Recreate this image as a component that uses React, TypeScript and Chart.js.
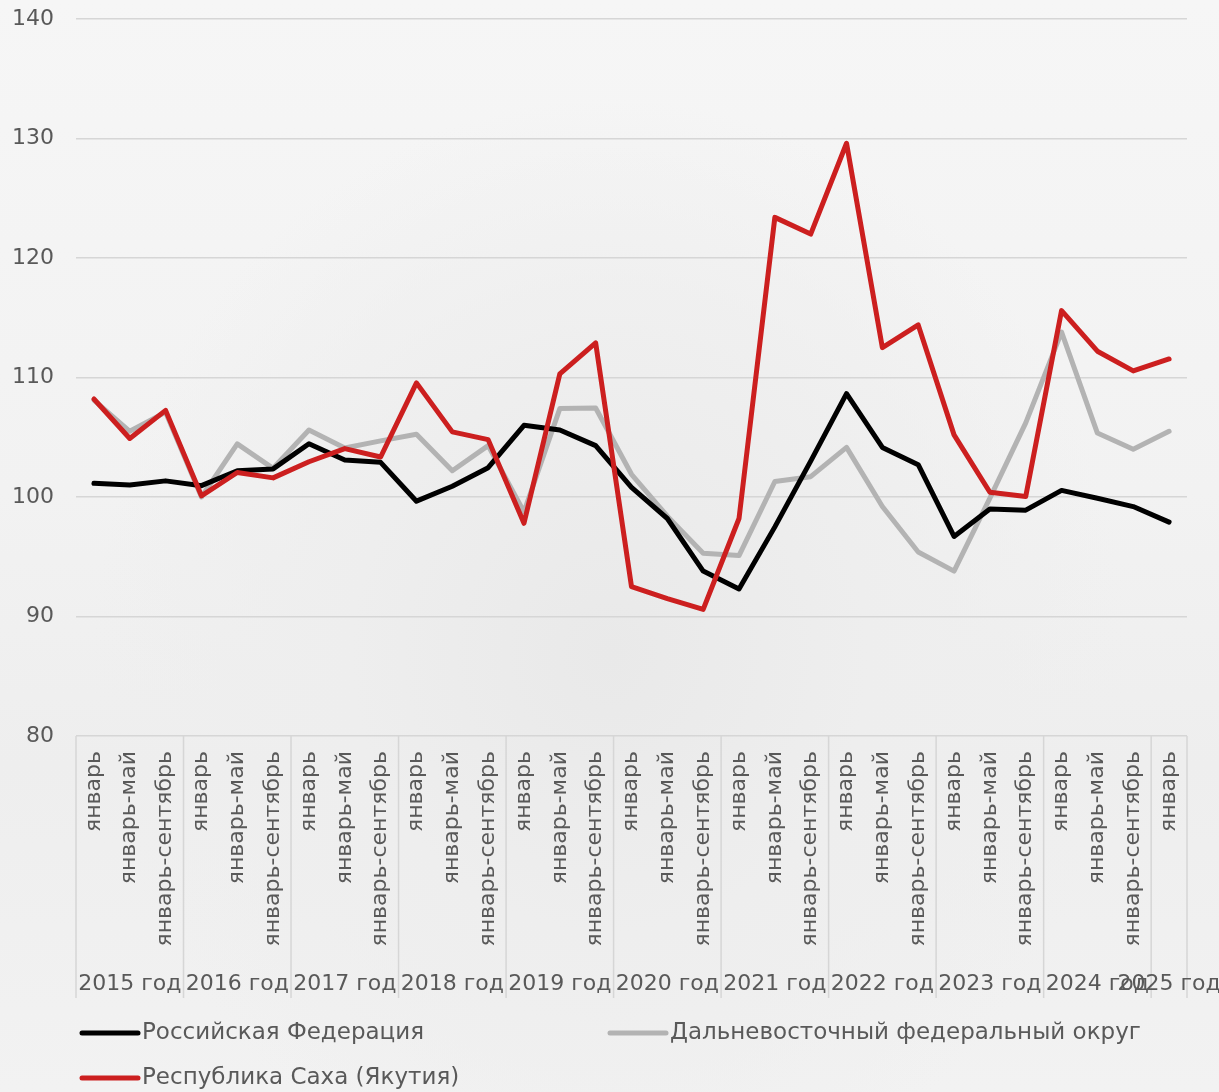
import React, { useEffect, useRef } from "react";
import { Chart, registerables } from "chart.js";

Chart.register(...registerables);

const yearLabels = ["2015 год", "2016 год", "2017 год", "2018 год", "2019 год", "2020 год", "2021 год", "2022 год", "2023 год", "2024 год", "2025 год"];
const yearSpans = [3, 3, 3, 3, 3, 3, 3, 3, 3, 3, 1];
const periodLabels = ["январь", "январь-май", "январь-сентябрь"];

const categories: string[] = [];
yearSpans.forEach((n) => {
  for (let i = 0; i < n; i++) categories.push(periodLabels[i]);
});

const russia = [101.15, 101.0, 101.35, 100.95, 102.2, 102.35, 104.45, 103.1, 102.9, 99.65, 100.9, 102.45, 106.0, 105.6, 104.3, 100.8, 98.2, 93.8, 92.3, 97.5, 103.0, 108.65, 104.15, 102.7, 96.7, 99.0, 98.9, 100.55, 99.9, 99.2, 97.9];
const farEast = [108.1, 105.5, 107.1, 100.0, 104.45, 102.4, 105.6, 104.1, 104.7, 105.25, 102.2, 104.3, 98.75, 107.4, 107.45, 101.9, 98.4, 95.3, 95.1, 101.3, 101.7, 104.15, 99.2, 95.4, 93.8, 99.9, 106.2, 113.8, 105.35, 104.0, 105.5];
const sakha = [108.2, 104.9, 107.25, 100.1, 102.05, 101.6, 102.95, 104.05, 103.35, 109.55, 105.45, 104.8, 97.8, 110.3, 112.9, 92.5, 91.5, 90.6, 98.2, 123.4, 122.0, 129.6, 112.5, 114.4, 105.2, 100.4, 100.05, 115.6, 112.2, 110.55, 111.55];

const seriesNames = ["Российская Федерация", "Дальневосточный федеральный округ", "Республика Саха (Якутия)"];
const seriesColors = ["#000000", "#b3b3b3", "#cc1f1f"];

const yMin = 80;
const yMax = 140;
const yStep = 10;

const FONT = "'DejaVu Sans', 'Noto Sans', sans-serif";
const TEXT = "#595959";
const GRID = "#d6d6d6";

const overlayPlugin = {
  id: "overlay",
  afterDraw(chart: any) {
    const { ctx, chartArea } = chart;
    const x = chart.scales.x;
    const step = x.getPixelForValue(1) - x.getPixelForValue(0);
    const top = chartArea.bottom;
    const lineBottom = 998;
    ctx.save();
    ctx.strokeStyle = GRID;
    ctx.lineWidth = 1.5;
    ctx.fillStyle = TEXT;
    ctx.font = `22px ${FONT}`;
    ctx.textAlign = "center";
    ctx.textBaseline = "middle";
    let start = 0;
    yearSpans.forEach((n, gi) => {
      const xl = x.getPixelForValue(start) - step / 2;
      const xr = x.getPixelForValue(start + n - 1) + step / 2;
      ctx.beginPath();
      ctx.moveTo(xl, top);
      ctx.lineTo(xl, lineBottom);
      ctx.stroke();
      if (gi === yearSpans.length - 1) {
        ctx.beginPath();
        ctx.moveTo(xr, top);
        ctx.lineTo(xr, lineBottom);
        ctx.stroke();
      }
      ctx.fillText(yearLabels[gi], (xl + xr) / 2, 984);
      start += n;
    });

    // legend
    const items = [
      { x: 80, y: 1033, i: 0 },
      { x: 608, y: 1033, i: 1 },
      { x: 80, y: 1078, i: 2 },
    ];
    ctx.font = `23px ${FONT}`;
    ctx.textAlign = "left";
    ctx.textBaseline = "middle";
    items.forEach((it) => {
      ctx.strokeStyle = seriesColors[it.i];
      ctx.lineWidth = 5;
      ctx.lineCap = "round";
      ctx.beginPath();
      ctx.moveTo(it.x + 2, it.y);
      ctx.lineTo(it.x + 58, it.y);
      ctx.stroke();
      ctx.fillStyle = TEXT;
      ctx.fillText(seriesNames[it.i], it.x + 62, it.y);
    });
    ctx.restore();
  },
};

export default function App() {
  const ref = useRef<HTMLCanvasElement | null>(null);
  useEffect(() => {
    if (!ref.current) return;
    const chart = new Chart(ref.current, {
      type: "line",
      data: {
        labels: categories,
        datasets: [
          { label: seriesNames[0], data: russia, borderColor: seriesColors[0], order: 1 },
          { label: seriesNames[1], data: farEast, borderColor: seriesColors[1], order: 2 },
          { label: seriesNames[2], data: sakha, borderColor: seriesColors[2], order: 0 },
        ].map((d) => ({
          ...d,
          borderWidth: 5,
          pointRadius: 0,
          pointHoverRadius: 0,
          tension: 0,
          fill: false,
          borderJoinStyle: "round" as const,
          borderCapStyle: "round" as const,
        })),
      },
      options: {
        animation: false,
        responsive: false,
        maintainAspectRatio: false,
        layout: { padding: { top: 19, right: 32, left: 0, bottom: 0 } },
        plugins: { legend: { display: false }, tooltip: { enabled: false } },
        scales: {
          x: {
            type: "category",
            offset: true,
            grid: { display: false },
            border: { display: false },
            ticks: {
              autoSkip: false,
              minRotation: 90,
              maxRotation: 90,
              padding: 7,
              color: TEXT,
              font: { family: FONT, size: 22 },
            },
            afterFit: (s: any) => {
              s.height = 356;
              s.paddingLeft = 0;
              s.paddingRight = 0;
              s.paddingTop = 0;
              s.paddingBottom = 0;
            },
          },
          y: {
            min: yMin,
            max: yMax,
            grid: { color: GRID, lineWidth: 1.5, drawTicks: false },
            border: { display: false },
            ticks: {
              stepSize: yStep,
              padding: 22,
              color: TEXT,
              font: { family: FONT, size: 22 },
            },
            afterFit: (s: any) => {
              s.width = 76;
              s.paddingTop = 0;
              s.paddingBottom = 0;
            },
          },
        },
      },
      plugins: [overlayPlugin],
    });
    return () => chart.destroy();
  }, []);

  return (
    <div
      style={{
        position: "fixed",
        left: 0,
        top: 0,
        width: 1219,
        height: 1092,
        background:
          "radial-gradient(ellipse at 50% 60%, #e9e9e9 0%, #eeeeee 30%, rgba(242,242,242,0) 60%), linear-gradient(#f6f6f6, #f2f2f2 45%, #eeeeee 70%, #f2f2f2)",
      }}
    >
      <canvas ref={ref} width={1219} height={1092} style={{ display: "block" }} />
    </div>
  );
}
